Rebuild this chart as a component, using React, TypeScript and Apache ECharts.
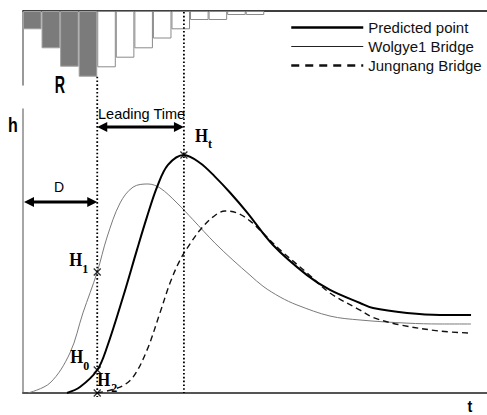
import React, { useEffect, useRef } from "react";
import * as echarts from "echarts";

// hyetograph (hourly rainfall depth, hanging bars)
const hours = ["1","2","3","4","5","6","7","8","9","10","11","12","13","14","15","16","17","18","19","20","21","22","23","24","25"];
const rainfall = [18.3, 37.3, 55.7, 65.7, 56.3, 46.7, 37.3, 27.5, 18.3, 9, 9, 4, 4];
const effectiveRainHours = 4;

// hydrographs [t, h]
const predictedPoint = [[2.37,0],[3.07,2.1],[4.0,8.1],[4.53,16.2],[5.39,33.8],[6.14,50.4],[6.68,62.0],[7.22,72.5],[7.81,80.3],[8.67,83.8],[9.54,81.0],[10.34,76.2],[11.15,70.6],[12.07,63.6],[13.47,52.1],[15.3,41.5],[16.54,36.3],[18.16,31.7],[18.86,29.9],[20.69,28.2],[22.47,27.5],[24.14,27.5]];
const wolgye1 = [[0.27,0],[1.45,3.5],[2.53,14.1],[3.23,28.2],[4.0,42.6],[4.53,54.9],[5.23,66.9],[5.93,72.5],[6.73,73.6],[7.38,72.2],[8.3,66.9],[9.16,61.0],[10.34,52.8],[11.31,46.8],[12.23,41.5],[12.93,37.6],[13.85,33.8],[14.76,31.0],[16.54,27.1],[18.16,25.7],[20.69,24.6],[22.47,24.3],[24.14,24.3]];
const jungnang = [[4.0,0],[5.23,2.1],[5.93,5.6],[6.68,15.1],[7.38,28.2],[7.92,38.7],[8.46,46.8],[9.0,52.5],[9.54,57.4],[10.24,62.0],[10.88,64.1],[11.53,63.4],[12.23,60.6],[12.93,56.3],[13.85,50.4],[15.3,42.3],[16.54,35.2],[18.16,29.2],[18.86,26.6],[20.31,24.0],[22.47,21.8],[24.14,21.1]];

// marked points
const markNames = ["H", "H", "H", "H"];
const markSubs = ["1", "0", "2", "t"];
const markPoints = [[4.0,42.6],[4.0,8.1],[4.0,0],[8.67,83.8]];

const leadStart = 4.0;
const leadEnd = 8.67;
const legendNames = ["Predicted point", "Wolgye1 Bridge", "Jungnang Bridge"];

const SANS = '"Liberation Sans", Arial, sans-serif';
const SERIF = '"Liberation Serif", "Times New Roman", serif';

export default function App() {
  const ref = useRef<HTMLDivElement>(null);
  useEffect(() => {
    const chart = echarts.init(ref.current!, null, { renderer: "svg" });
    const hideSym = { color: "transparent", borderWidth: 0, opacity: 0 };
    const option: any = {
      animation: false,
      backgroundColor: "#ffffff",
      legend: {
        orient: "vertical",
        left: 285,
        top: 15,
        itemWidth: 72,
        itemHeight: 14,
        itemGap: 4,
        selectedMode: false,
        textStyle: { fontFamily: SANS, fontSize: 15, color: "#111", padding: [0, 0, 0, 0] },
        data: [
          { name: legendNames[0], lineStyle: { width: 2.5 }, itemStyle: hideSym },
          { name: legendNames[1], lineStyle: { width: 1.2, color: "#222" }, itemStyle: hideSym },
          { name: legendNames[2], lineStyle: { width: 2.5, type: [8, 6] }, itemStyle: hideSym },
        ],
      },
      grid: [
        { left: 23, right: 0, top: 109, bottom: 22 },
        { left: 23, right: 0, top: 11, height: 74 },
      ],
      xAxis: [
        {
          type: "value", gridIndex: 0, min: 0, max: 25,
          axisLine: { show: true, onZero: false, lineStyle: { color: "#555", width: 2 } },
          axisTick: { show: false }, axisLabel: { show: false }, splitLine: { show: false },
        },
        {
          type: "category", gridIndex: 1, data: hours, position: "top", boundaryGap: true,
          axisLine: { show: true, onZero: false, lineStyle: { color: "#000", width: 1.5 } },
          axisTick: { show: false }, axisLabel: { show: false }, splitLine: { show: false },
        },
      ],
      yAxis: [
        {
          type: "value", gridIndex: 0, min: 0, max: 100,
          axisLine: { show: true, lineStyle: { color: "#888", width: 1.5 } },
          axisTick: { show: false }, axisLabel: { show: false }, splitLine: { show: false },
        },
        {
          type: "value", gridIndex: 1, min: 0, max: 74, inverse: true,
          axisLine: { show: true, lineStyle: { color: "#777", width: 1.5 } },
          axisTick: { show: false }, axisLabel: { show: false }, splitLine: { show: false },
        },
      ],
      series: [
        {
          name: "Rainfall", type: "bar", xAxisIndex: 1, yAxisIndex: 1, barCategoryGap: "0%",
          data: rainfall.map((v, i) => ({
            value: v,
            itemStyle: {
              color: i < effectiveRainHours ? "#7b7b7b" : "#ffffff",
              borderColor: i < effectiveRainHours ? "#a0a0a0" : "#8a8a8a",
              borderWidth: 1,
            },
          })),
        },
        {
          name: legendNames[1], type: "line", data: wolgye1, symbol: "none",
          smooth: 0.35,
          lineStyle: { color: "#7a7a7a", width: 1 }, itemStyle: { color: "#7a7a7a" },
        },
        {
          name: legendNames[2], type: "line", data: jungnang, symbol: "none",
          smooth: 0.35,
          lineStyle: { color: "#111", width: 1.4, type: [6, 4] }, itemStyle: { color: "#111" },
        },
        {
          name: legendNames[0], type: "line", data: predictedPoint, symbol: "none",
          smooth: 0.35,
          lineStyle: { color: "#000", width: 2 }, itemStyle: { color: "#000" },
        },
        {
          name: "marks", type: "scatter", data: markPoints,
          symbol: "path://M0,0L10,10M10,0L0,10", symbolSize: 7, z: 5,
          itemStyle: { color: "none", borderColor: "#000", borderWidth: 1.3 },
        },
      ],
    };
    chart.setOption(option);

    const px = (t: number, h: number) => chart.convertToPixel({ gridIndex: 0 }, [t, h]) as number[];
    const axisY = px(0, 0)[1];
    const topY = px(0, 100)[1];
    const leftX = px(0, 0)[0];
    const barBottom = (chart.convertToPixel({ gridIndex: 1 }, [effectiveRainHours - 1, rainfall[effectiveRainHours - 1]]) as number[])[1];
    const hyetoTop = (chart.convertToPixel({ gridIndex: 1 }, [0, 0]) as number[])[1];
    const xLead0 = px(leadStart, 0)[0];
    const xLead1 = px(leadEnd, 0)[0];

    const g: any[] = [];
    const dotted = { stroke: "#000", lineWidth: 1.8, lineDash: [1.6, 2.2] };
    g.push({ type: "line", z: 20, shape: { x1: xLead0, y1: barBottom, x2: xLead0, y2: axisY + 4 }, style: dotted });
    g.push({ type: "line", z: 20, shape: { x1: xLead1, y1: hyetoTop + 1, x2: xLead1, y2: axisY }, style: dotted });

    const arrow = (x1: number, x2: number, y: number) => {
      const L = 10, W = 5;
      g.push({ type: "line", z: 20, shape: { x1: x1 + L - 1, y1: y, x2: x2 - L + 1, y2: y }, style: { stroke: "#000", lineWidth: 3 } });
      g.push({ type: "polygon", z: 20, shape: { points: [[x1, y], [x1 + L, y - W], [x1 + L, y + W]] }, style: { fill: "#000" } });
      g.push({ type: "polygon", z: 20, shape: { points: [[x2, y], [x2 - L, y - W], [x2 - L, y + W]] }, style: { fill: "#000" } });
    };
    const leadY = topY + 18;
    arrow(xLead0, xLead1, leadY);
    const dY = topY + 93;
    arrow(leftX + 1, xLead0, dY);

    const txt = (text: string, x: number, y: number, style: any, scaleX = 1) =>
      g.push({ type: "text", z: 25, x, y, scaleX, style: { text, fill: "#000", verticalAlign: "middle", ...style } });

    txt("Leading Time", (xLead0 + xLead1) / 2 + 1, leadY - 13, { fontFamily: SANS, fontSize: 14.5, align: "center" });
    txt("D", (leftX + xLead0) / 2 - 1, dY - 15, { fontFamily: SANS, fontSize: 14, align: "center" });
    txt("h", 13, topY + 16, { fontFamily: SANS, fontSize: 20, fontWeight: "bold", align: "center" }, 0.8);
    txt("t", 470, axisY + 13, { fontFamily: SANS, fontSize: 17, fontWeight: "bold", align: "center" }, 0.85);
    txt("R", 60, 85, { fontFamily: SANS, fontSize: 23, fontWeight: "bold", align: "center" }, 0.62);

    // offsets: [H anchor dx, H dy, H align, sub dx, sub dy]
    const offs: any[] = [
      [-15, -12, "right", -15, -3],
      [-14, -13, "right", -14, -4],
      [0, -13, "left", 14, -5],
      [11, -19, "left", 24, -11],
    ];
    markPoints.forEach((p, i) => {
      const [x, y] = px(p[0], p[1]);
      const o = offs[i];
      txt(markNames[i], x + o[0], y + o[1], { fontFamily: SERIF, fontSize: 19, fontWeight: "bold", align: o[2] }, 0.88);
      txt(markSubs[i], x + o[3], y + o[4], { fontFamily: SERIF, fontSize: 12, fontWeight: "bold", align: "left" });
    });

    chart.setOption({ graphic: g });
    return () => chart.dispose();
  }, []);
  return <div ref={ref} style={{ position: "absolute", left: 0, top: 0, width: 487, height: 415 }} />;
}
